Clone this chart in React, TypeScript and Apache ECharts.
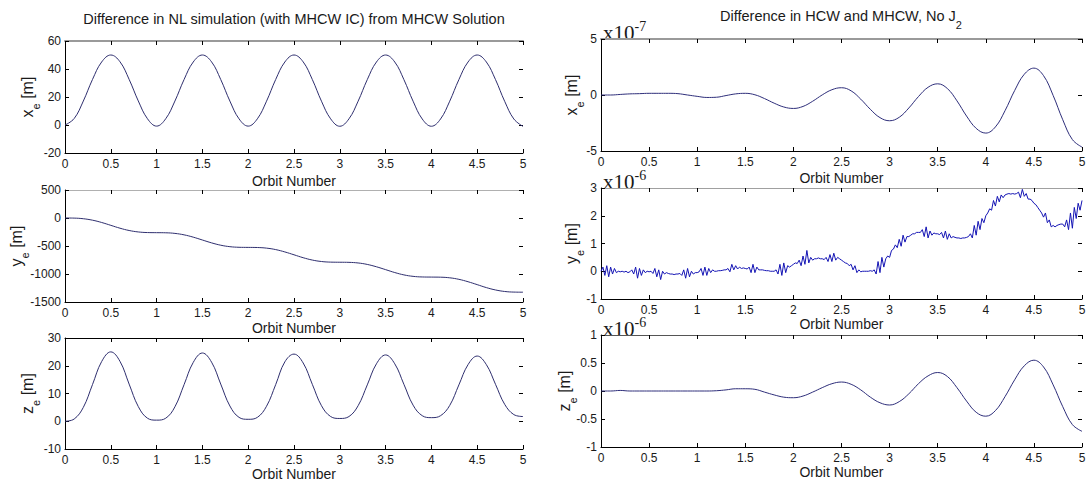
import React, { useEffect, useRef } from "react";
import * as echarts from "echarts";

// ---------- data ----------
// Left column: NL simulation minus MHCW solution, sampled every 0.1 orbit
const xeNL = [0, 4.6, 17.1, 32.5, 45.0, 50.0, 45.2, 32.6, 17.2, 4.5, -0.8, 4.5, 17.1, 32.5, 45.0, 50.0, 45.1, 32.5, 17.1, 4.4, -0.8, 4.4, 17.0, 32.5, 45.0, 50.0, 45.1, 32.5, 17.0, 4.4, -0.9, 4.4, 17.0, 32.4, 45.0, 50.0, 45.0, 32.4, 17.0, 4.3, -0.9, 4.3, 17.0, 32.4, 45.0, 50.0, 45.0, 32.4, 16.9, 4.3, -1.0];
const yeNL = [0, -2, -13, -39, -80, -131, -182, -223, -249, -260, -262, -264, -275, -301, -342, -393, -444, -486, -512, -523, -525, -527, -538, -564, -606, -657, -709, -751, -777, -788, -790, -792, -803, -829, -871, -922, -974, -1016, -1042, -1053, -1055, -1057, -1068, -1095, -1138, -1190, -1243, -1285, -1312, -1323, -1325];
const zeNL = [0, 0.8, 5.0, 13.2, 21.5, 25.0, 21.6, 13.4, 5.3, 1.1, 0.4, 1.1, 5.2, 13.2, 21.2, 24.6, 21.3, 13.4, 5.5, 1.4, 0.7, 1.4, 5.4, 13.2, 21.4, 24.2, 21.0, 13.3, 5.6, 1.7, 1.0, 1.7, 5.6, 13.1, 20.7, 23.9, 20.7, 13.3, 5.8, 2.0, 1.3, 2.0, 5.7, 13.1, 20.4, 23.5, 20.4, 13.3, 6.1, 2.4, 1.7];
// Right column: HCW minus MHCW (x in 1e-7 m, y and z in 1e-6 m)
const xeHCW = [0, 0, 0.05, 0.1, 0.12, 0.15, 0.15, 0.15, 0.12, 0, -0.12, -0.22, -0.2, -0.05, 0.1, 0.15, 0.02, -0.32, -0.73, -1.07, -1.2, -1.02, -0.56, 0.01, 0.47, 0.65, 0.37, -0.37, -1.28, -2.02, -2.3, -1.99, -1.16, -0.14, 0.69, 1.0, 0.58, -0.52, -1.88, -2.98, -3.4, -2.85, -1.4, 0.4, 1.85, 2.4, 1.73, -0.04, -2.21, -3.98, -4.65];
// sampled every 0.02 orbit
const yeHCW = [0.0, 0.15, -0.15, 0.2, -0.2, 0.15, -0.1, 0.1, -0.05, 0.0, -0.02, 0.0, -0.03, 0.0, -0.05, -0.02, 0.05, -0.1, 0.15, -0.25, 0.1, -0.15, 0.05, -0.05, 0.0, -0.02, 0.0, -0.08, 0.1, -0.2, 0.05, -0.3, 0.0, -0.1, -0.05, -0.08, -0.1, -0.1, -0.12, -0.1, -0.1, -0.08, -0.15, 0.05, -0.25, 0.1, -0.2, 0.0, -0.1, -0.05, -0.05, -0.02, 0.1, -0.15, 0.15, -0.15, 0.1, -0.05, 0.05, 0.0, 0.0, 0.02, 0.02, 0.03, 0.05, 0.05, 0.1, -0.02, 0.25, 0.05, 0.2, 0.08, 0.15, 0.1, 0.12, 0.1, 0.08, 0.15, -0.05, 0.25, -0.05, 0.15, 0.05, 0.05, 0.05, 0.03, 0.02, 0.02, 0.0, 0.0, 0.0, 0.05, -0.1, 0.25, -0.15, 0.3, -0.05, 0.2, 0.15, 0.2, 0.25, 0.3, 0.28, 0.4, 0.2, 0.55, 0.25, 0.75, 0.3, 0.5, 0.4, 0.45, 0.45, 0.48, 0.45, 0.45, 0.42, 0.5, 0.35, 0.6, 0.35, 0.65, 0.4, 0.5, 0.45, 0.4, 0.35, 0.3, 0.28, 0.2, 0.25, 0.05, 0.2, -0.05, 0.05, -0.02, 0.0, 0.0, 0.0, 0.0, 0.02, 0.0, 0.05, -0.1, 0.35, -0.05, 0.5, 0.15, 0.45, 0.55, 0.5, 0.75, 0.8, 0.95, 0.85, 1.15, 0.9, 1.3, 1.05, 1.25, 1.25, 1.3, 1.35, 1.35, 1.4, 1.4, 1.4, 1.5, 1.25, 1.6, 1.2, 1.45, 1.3, 1.38, 1.35, 1.35, 1.32, 1.4, 1.2, 1.45, 1.15, 1.35, 1.2, 1.25, 1.22, 1.2, 1.2, 1.18, 1.2, 1.2, 1.22, 1.25, 1.35, 1.2, 1.65, 1.3, 1.8, 1.5, 1.9, 1.75, 2.0, 2.1, 2.25, 2.2, 2.55, 2.35, 2.7, 2.5, 2.75, 2.65, 2.75, 2.78, 2.8, 2.78, 2.8, 2.78, 2.8, 2.85, 2.65, 2.95, 2.7, 2.8, 2.6, 2.6, 2.55, 2.45, 2.4, 2.3, 2.2, 2.1, 1.95, 2.1, 1.75, 1.85, 1.6, 1.65, 1.6, 1.65, 1.68, 1.7, 1.7, 1.6, 1.85, 1.5, 2.1, 1.55, 2.3, 1.9, 2.45, 2.2, 2.55];
const zeHCW = [0, 0, 0.01, 0, 0, 0, 0, 0, 0, 0, 0, 0, 0.005, 0.02, 0.04, 0.04, 0.03, -0.02, -0.07, -0.11, -0.12, -0.09, -0.02, 0.06, 0.13, 0.16, 0.12, 0.02, -0.11, -0.21, -0.25, -0.19, -0.05, 0.13, 0.27, 0.33, 0.26, 0.06, -0.18, -0.38, -0.45, -0.35, -0.10, 0.20, 0.45, 0.55, 0.43, 0.11, -0.28, -0.60, -0.72];

const titles = [
  "Difference in NL simulation (with MHCW IC) from MHCW Solution",
  "Difference in HCW and MHCW, No J",
];
const axisNames = ["x", "y", "z"];
const exponents = ["-7", "-6", "-6"];
const xAxisTitle = "Orbit Number";

const SANS = "'Liberation Sans', Arial, Helvetica, sans-serif";
const SERIF = "'Liberation Serif', 'Times New Roman', serif";
const TXT = "#1a1a1a";

type Panel = {
  left: number; top: number; width: number; height: number;
  yMin: number; yMax: number; yInt: number;
  data: number[]; step: number; smooth: boolean; color: string;
  topColor: string; topWidth: number; nameGap: number; yNameX: number;
};

const panels: Panel[] = [
  { left: 65, top: 41, width: 458, height: 112, yMin: -20, yMax: 60, yInt: 20, data: xeNL, step: 0.1, smooth: true, color: "#2e2e6e", topColor: "#9a9a9a", topWidth: 2, nameGap: 21, yNameX: 30 },
  { left: 65, top: 190, width: 458, height: 112, yMin: -1500, yMax: 500, yInt: 500, data: yeNL, step: 0.1, smooth: true, color: "#2e2e6e", topColor: "#b0b0b0", topWidth: 1, nameGap: 19, yNameX: 19 },
  { left: 65, top: 338, width: 458, height: 111, yMin: -10, yMax: 30, yInt: 10, data: zeNL, step: 0.1, smooth: true, color: "#2e2e6e", topColor: "#000000", topWidth: 1, nameGap: 17, yNameX: 30 },
  { left: 601, top: 39, width: 481, height: 112, yMin: -5, yMax: 5, yInt: 5, data: xeHCW, step: 0.1, smooth: true, color: "#2e2e7a", topColor: "#9a9a9a", topWidth: 2, nameGap: 20, yNameX: 574 },
  { left: 601, top: 188, width: 481, height: 111, yMin: -1, yMax: 3, yInt: 1, data: yeHCW, step: 0.02, smooth: false, color: "#1414b4", topColor: "#a0a0a0", topWidth: 1, nameGap: 18, yNameX: 574 },
  { left: 601, top: 335, width: 481, height: 112, yMin: -1, yMax: 1, yInt: 0.5, data: zeHCW, step: 0.1, smooth: true, color: "#2e2e7a", topColor: "#555555", topWidth: 1, nameGap: 16, yNameX: 567 },
];

const plain = (v: number) => String(Math.round(v * 1000) / 1000);

function buildOption() {
  const grid: any[] = [];
  const xAxis: any[] = [];
  const yAxis: any[] = [];
  const series: any[] = [];
  const graphic: any[] = [];

  panels.forEach((p, i) => {
    grid.push({ left: p.left, top: p.top, width: p.width, height: p.height, containLabel: false, outerBoundsMode: "none" });
    const tick = { show: true, inside: true, length: 4, lineStyle: { color: "#000", width: 1 } };
    xAxis.push({
      type: "value", gridIndex: i, position: "bottom", min: 0, max: 5, interval: 0.5,
      name: xAxisTitle, nameLocation: "middle", nameGap: p.nameGap,
      nameTextStyle: { fontFamily: SANS, fontSize: 14, color: TXT },
      axisLine: { show: true, onZero: false, lineStyle: { color: "#000", width: 1 } },
      axisTick: tick,
      axisLabel: { margin: 5, fontFamily: SANS, fontSize: 12, color: TXT, formatter: plain },
      splitLine: { show: false },
    });
    xAxis.push({
      type: "value", gridIndex: i, position: "top", min: 0, max: 5, interval: 0.5,
      axisLine: { show: true, onZero: false, lineStyle: { color: p.topColor, width: p.topWidth } },
      axisTick: tick, axisLabel: { show: false }, splitLine: { show: false },
    });
    yAxis.push({
      type: "value", gridIndex: i, position: "left", min: p.yMin, max: p.yMax, interval: p.yInt,
      axisLine: { show: true, onZero: false, lineStyle: { color: "#000", width: 1 } },
      axisTick: tick,
      axisLabel: { margin: 4, fontFamily: SANS, fontSize: 12, color: TXT, formatter: plain },
      splitLine: { show: false },
    });
    yAxis.push({
      type: "value", gridIndex: i, position: "right", min: p.yMin, max: p.yMax, interval: p.yInt,
      axisLine: { show: false, onZero: false },
      axisTick: tick, axisLabel: { show: false }, splitLine: { show: false },
    });
    series.push({
      type: "line", xAxisIndex: 2 * i, yAxisIndex: 2 * i,
      data: p.data.map((v, k) => [Math.round(k * p.step * 100) / 100, v]),
      showSymbol: false, symbol: "none", smooth: p.smooth ? 0.4 : false, silent: true,
      lineStyle: { color: p.color, width: 1 },
    });

    const col = i < 3 ? 0 : 1;
    const row = i % 3;
    graphic.push({
      type: "text",
      x: p.yNameX,
      y: p.top + p.height / 2,
      rotation: Math.PI / 2,
      style: {
        text: `{n|${axisNames[row]}}{s|e}{n| [m]}`,
        align: "center", verticalAlign: "middle", fill: TXT,
        rich: {
          n: { fontFamily: SANS, fontSize: 16, lineHeight: 22, verticalAlign: "top", fill: TXT },
          s: { fontFamily: SANS, fontSize: 11, lineHeight: 12, verticalAlign: "bottom", fill: TXT },
        },
      },
    });
    if (col === 1) {
      graphic.push({
        type: "text",
        x: p.left + 2,
        y: p.top + 4,
        style: {
          text: `{b|x10}{s|${exponents[row]}}`,
          align: "left", verticalAlign: "bottom", fill: TXT,
          rich: {
            b: { fontFamily: SERIF, fontSize: 21, lineHeight: 24, verticalAlign: "bottom", fill: TXT },
            s: { fontFamily: SERIF, fontSize: 14, lineHeight: 15, verticalAlign: "top", fill: TXT },
          },
        },
      });
    }
  });

  graphic.push({
    type: "text", x: 294, y: 19,
    style: { text: titles[0], align: "center", verticalAlign: "middle", fill: TXT, font: `14.5px ${SANS}` },
  });
  graphic.push({
    type: "text", x: 841, y: 19,
    style: {
      text: `{n|${titles[1]}}{s|2}`,
      align: "center", verticalAlign: "middle", fill: TXT,
      rich: {
        n: { fontFamily: SANS, fontSize: 14.5, lineHeight: 22, verticalAlign: "top", fill: TXT },
        s: { fontFamily: SANS, fontSize: 11, lineHeight: 12, verticalAlign: "bottom", fill: TXT },
      },
    },
  });

  return { animation: false, backgroundColor: "#ffffff", grid, xAxis, yAxis, series, graphic };
}

export default function App() {
  const ref = useRef<HTMLDivElement>(null);
  useEffect(() => {
    document.body.style.margin = "0";
    if (!ref.current) return;
    const chart = echarts.init(ref.current, undefined, { renderer: "svg" });
    chart.setOption(buildOption() as any);
    return () => chart.dispose();
  }, []);
  return <div ref={ref} style={{ width: 1088, height: 484, background: "#fff" }} />;
}
